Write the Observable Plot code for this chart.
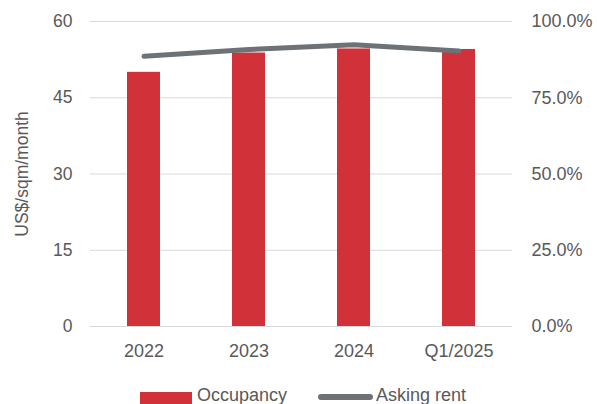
<!DOCTYPE html>
<html>
<head>
<meta charset="utf-8">
<script src="https://cdn.jsdelivr.net/npm/d3@7"></script>
<script src="https://cdn.jsdelivr.net/npm/@observablehq/plot@0.6"></script>
<style>
  html, body { margin: 0; padding: 0; background: #fff; overflow: hidden; }
  #wrap { position: relative; width: 597px; height: 404px; overflow: hidden; font-family: "Liberation Sans", Arial, sans-serif; }
  #legend { position: absolute; left: 0; top: 385px; width: 597px; height: 19px; color: #595959; font-size: 18px; }
  .sw { position: absolute; }
  .lt { position: absolute; white-space: nowrap; line-height: 18px; }
</style>
</head>
<body>
<div id="wrap">
  <div id="chart"></div>
  <div id="legend">
    <div class="sw" style="left:140px;top:7px;width:52px;height:12px;background:#d13239"></div>
    <div class="lt" style="left:197px;top:1px">Occupancy</div>
    <div class="sw" style="left:318px;top:9px;width:55px;height:6px;background:#6d7276;border-radius:3px"></div>
    <div class="lt" style="left:376px;top:1px">Asking rent</div>
  </div>
</div>
<script>
const categories = ["2022", "2023", "2024", "Q1/2025"];
const occupancy = [50.0, 53.8, 54.6, 54.5];        // left axis, US$/sqm/month
const askingRentPct = [88.6, 90.8, 92.4, 90.3];    // right axis, %
const leftTicks = [0, 15, 30, 45, 60];
const rightTickLabels = ["0.0%", "25.0%", "50.0%", "75.0%", "100.0%"];

const yMax = 60;
const data = categories.map((c, i) => ({cat: c, occ: occupancy[i], rent: askingRentPct[i]}));

const W = 597, H = 380;
const chart = Plot.plot({
  width: W,
  height: H,
  marginLeft: 90,
  marginRight: 85,
  marginTop: 21,
  marginBottom: H - 326,
  style: {fontFamily: "'Liberation Sans', Arial, sans-serif", fontSize: "18px", color: "#595959", background: "#fff"},
  x: {domain: categories, paddingInner: 0.69, paddingOuter: 0.345, align: 0.5},
  y: {domain: [0, yMax]},
  marks: [
    Plot.ruleY(leftTicks, {stroke: "#d9d9d9", strokeWidth: 1.2, strokeOpacity: 1}),
    Plot.barY(data, {x: "cat", y: "occ", fill: "#d13239"}),
    Plot.line(data, {x: "cat", y: d => d.rent / 100 * yMax, stroke: "#6d7276", strokeWidth: 5, strokeLinecap: "round", strokeLinejoin: "round"}),
    Plot.axisX({tickSize: 0, tickPadding: 18, label: null, fill: "#595959"}),
    Plot.axisY({anchor: "left", ticks: leftTicks, tickSize: 0, tickPadding: 18, label: "US$/sqm/month", labelAnchor: "center", labelArrow: "none", labelOffset: 75, fill: "#595959", fontSize: 17.5}),
    Plot.axisY({anchor: "right", ticks: leftTicks, tickSize: 0, tickPadding: 19, textAnchor: "start",
      tickFormat: (d) => rightTickLabels[leftTicks.indexOf(d)], label: null, fill: "#595959"})
  ]
});
document.getElementById("chart").appendChild(chart);
</script>
</body>
</html>
